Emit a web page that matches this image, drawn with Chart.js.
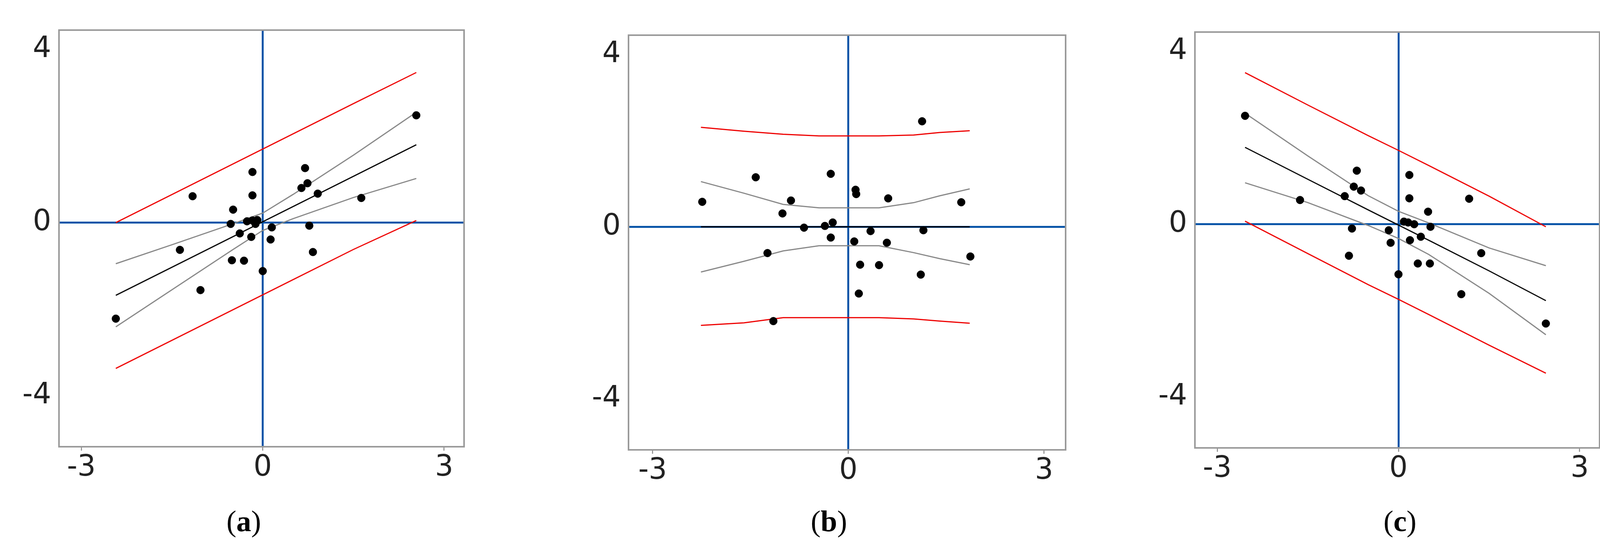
<!DOCTYPE html>
<html>
<head>
<meta charset="utf-8">
<script src="https://cdn.jsdelivr.net/npm/chart.js@4.4.1/dist/chart.umd.min.js"></script>
<style>
  body { margin: 0; background: #fff; width: 4146px; height: 1397px; position: relative; overflow: hidden; }
  .panel { position: absolute; top: 0; height: 1397px; }
  .cap { position: absolute; top: 1290px; font: 76px "Liberation Serif", serif; color: #000; transform: translateX(-50%); }
  .cap b { font-weight: bold; }
</style>
</head>
<body>
<div class="panel" style="left:0;width:1250px"><canvas id="chartA"></canvas></div>
<div class="panel" style="left:1450px;width:1350px"><canvas id="chartB"></canvas></div>
<div class="panel" style="left:2900px;width:1246px"><canvas id="chartC"></canvas></div>
<div class="cap" style="left:624px">(<b>a</b>)</div>
<div class="cap" style="left:2122px">(<b>b</b>)</div>
<div class="cap" style="left:3584px">(<b>c</b>)</div>
<script>
// panel (a) points
const aX = [-0.17, -0.17, -1.16, -0.49, -0.53, -0.26, -0.17, -0.09, -0.12, -0.38, -0.19, 0.15, 0.13, -1.37, -0.51, -0.31, 0.0, -1.03, -2.43, 0.70, 0.64, 0.74, 0.91, 1.63, 0.77, 0.83, 2.54];
const aY = [1.17, 0.63, 0.61, 0.30, -0.03, 0.03, 0.05, 0.06, -0.03, -0.25, -0.33, -0.11, -0.39, -0.63, -0.87, -0.88, -1.12, -1.56, -2.22, 1.26, 0.80, 0.91, 0.67, 0.57, -0.07, -0.68, 2.48];
const aLineX = [-2.43, -1.5, -0.5, 0, 0.5, 1.5, 2.54];
const aFit = [-1.68, -1.03, -0.33, 0.02, 0.37, 1.07, 1.80];
const aCiUp = [-0.95, -0.51, -0.03, 0.22, 0.65, 1.56, 2.55];
const aCiLo = [-2.41, -1.55, -0.63, -0.18, 0.09, 0.58, 1.02];
const aPiUp = [0.0, 0.65, 1.35, 1.70, 2.05, 2.75, 3.47];
const aPiLo = [-3.37, -2.72, -2.02, -1.67, -1.32, -0.62, 0.05];

// panel (b) points
const bX = [1.13, -1.42, -0.27, 0.11, 0.12, -2.24, -0.88, 0.61, 1.73, -1.01, -0.68, -0.36, -0.24, -0.27, 0.34, 1.15, 0.09, 0.59, -1.24, 1.87, 0.18, 0.47, 1.11, 0.16, -1.15];
const bY = [2.45, 1.15, 1.23, 0.86, 0.76, 0.58, 0.61, 0.66, 0.57, 0.31, -0.02, 0.02, 0.10, -0.25, -0.10, -0.08, -0.34, -0.37, -0.61, -0.69, -0.88, -0.89, -1.11, -1.55, -2.19];
const bLineX = [-2.26, -1.6, -1.0, -0.45, 0.47, 1.0, 1.4, 1.86];
const bFit = [0, 0, 0, 0, 0, 0, 0, 0];
const bCiUp = [1.05, 0.78, 0.52, 0.44, 0.44, 0.56, 0.72, 0.88];
const bCiLo = [-1.05, -0.80, -0.56, -0.44, -0.44, -0.60, -0.74, -0.88];
const bPiUp = [2.31, 2.22, 2.15, 2.11, 2.11, 2.13, 2.19, 2.23];
const bPiLo = [-2.29, -2.23, -2.11, -2.11, -2.11, -2.14, -2.19, -2.24];

// panel (c) points
const cX = [-2.54, -0.69, 0.18, -0.74, -0.62, -0.89, -1.63, 0.18, 1.17, 0.49, 0.09, 0.16, 0.26, 0.53, -0.77, -0.16, 0.37, 0.19, -0.13, 1.37, -0.82, 0.32, 0.52, 0.0, 1.04, 2.44];
const cY = [2.51, 1.24, 1.14, 0.87, 0.78, 0.65, 0.56, 0.60, 0.59, 0.29, 0.06, 0.04, 0.0, -0.06, -0.10, -0.14, -0.29, -0.37, -0.43, -0.67, -0.73, -0.91, -0.91, -1.16, -1.62, -2.30];
const cLineX = [-2.54, -1.5, -0.5, 0, 0.5, 1.5, 2.44];
const cFit = [1.78, 1.04, 0.33, -0.02, -0.37, -1.08, -1.77];
const cCiUp = [2.57, 1.58, 0.66, 0.30, 0.03, -0.55, -0.96];
const cCiLo = [0.96, 0.50, -0.03, -0.33, -0.70, -1.60, -2.56];
const cPiUp = [3.51, 2.76, 2.05, 1.71, 1.36, 0.65, -0.06];
const cPiLo = [0.07, -0.68, -1.40, -1.74, -2.09, -2.80, -3.45];

const xTicks = [-3, 0, 3];
const yTicks = [-4, 0, 4];

function pts(xs, ys) { return xs.map((x, i) => ({ x: x, y: ys[i] })); }

const boxPlugin = {
    id: 'box',
    afterDraw(chart) {
        const a = chart.chartArea, ctx = chart.ctx;
        ctx.save();
        ctx.strokeStyle = '#9a9a9a';
        ctx.lineWidth = 4;
        ctx.strokeRect(a.left, a.top, a.right - a.left, a.bottom - a.top);
        ctx.restore();
    }
};

function line(xs, ys, color) {
    return { type: 'line', data: pts(xs, ys), borderColor: color, borderWidth: 3, pointRadius: 0, showLine: true, fill: false, order: 2 };
}

function makePanel(id, w, box, px, py, lx, fit, ciUp, ciLo, piUp, piLo) {
    // box = [left, top, right, bottom] of plot area inside the canvas
    const canvas = document.getElementById(id);
    canvas.width = w; canvas.height = 1397;
    canvas.style.width = w + 'px'; canvas.style.height = '1397px';
    const tickFont = { family: 'DejaVu Sans', size: 74 };
    new Chart(canvas.getContext('2d'), {
        type: 'scatter',
        data: {
            datasets: [
                { data: pts(px, py), backgroundColor: '#000', borderColor: '#000', pointRadius: 10, pointStyle: 'circle', order: 1 },
                line(lx, fit, '#000'),
                line(lx, ciUp, '#888'),
                line(lx, ciLo, '#888'),
                line(lx, piUp, '#ee0000'),
                line(lx, piLo, '#ee0000')
            ]
        },
        options: {
            responsive: false,
            animation: false,
            devicePixelRatio: 1,
            layout: { padding: { left: 0, top: box[1], right: w - box[2], bottom: 0 } },
            plugins: { legend: { display: false }, tooltip: { enabled: false } },
            scales: {
                x: {
                    type: 'linear', min: -3.37, max: 3.33,
                    afterBuildTicks: s => { s.ticks = xTicks.map(v => ({ value: v })); },
                    afterFit: s => { s.height = 1397 - box[3]; },
                    border: { display: false },
                    grid: { color: c => c.tick && c.tick.value === 0 ? '#0a55a8' : 'rgba(0,0,0,0)', lineWidth: 5, drawTicks: true, tickLength: 10, tickColor: '#9a9a9a', tickWidth: 3 },
                    ticks: { color: '#222', font: tickFont, padding: 0, maxRotation: 0 }
                },
                y: {
                    type: 'linear', min: -5.18, max: 4.45,
                    afterBuildTicks: s => { s.ticks = yTicks.map(v => ({ value: v })); },
                    afterFit: s => { s.width = box[0]; },
                    border: { display: false },
                    grid: { color: c => c.tick && c.tick.value === 0 ? '#0a55a8' : 'rgba(0,0,0,0)', lineWidth: 5, drawTicks: false },
                    ticks: { color: '#222', font: tickFont, padding: 20 }
                }
            }
        },
        plugins: [boxPlugin]
    });
}

makePanel('chartA', 1250, [151, 77, 1188, 1143], aX, aY, aLineX, aFit, aCiUp, aCiLo, aPiUp, aPiLo);
makePanel('chartB', 1350, [159, 90, 1278, 1151], bX, bY, bLineX, bFit, bCiUp, bCiLo, bPiUp, bPiLo);
makePanel('chartC', 1246, [159, 82, 1195, 1146], cX, cY, cLineX, cFit, cCiUp, cCiLo, cPiUp, cPiLo);
</script>
</body>
</html>
